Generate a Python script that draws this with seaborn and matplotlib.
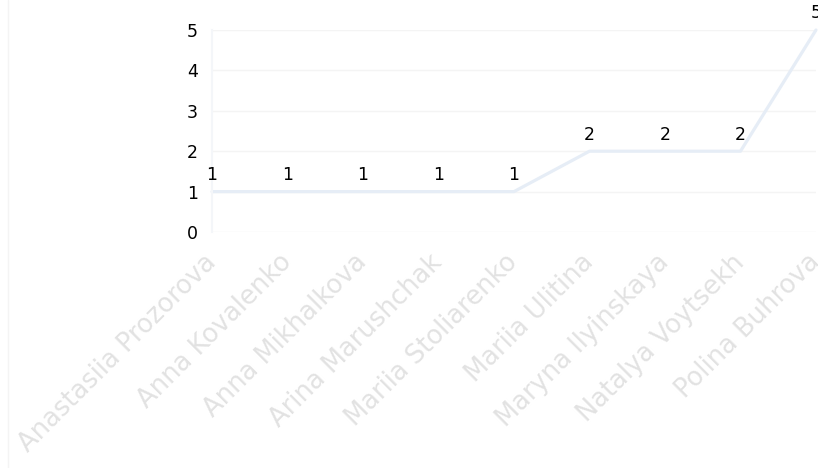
import pandas as pd
import numpy as np
import matplotlib
matplotlib.use("Agg")
import matplotlib.pyplot as plt
import seaborn as sns
from matplotlib.lines import Line2D

# datos del gráfico
names = ["Anastasiia Prozorova", "Anna Kovalenko", "Anna Mikhalkova",
         "Arina Marushchak", "Mariia Stoliarenko", "Mariia Ulitina",
         "Maryna Ilyinskaya", "Natalya Voytsekh", "Polina Buhrova"]
counts = [1, 1, 1, 1, 1, 2, 2, 2, 5]
yticks = [0, 1, 2, 3, 4, 5]

df = pd.DataFrame({"name": names, "count": counts})
df["pos"] = np.arange(len(df))

sns.set_style("white")
plt.rcParams['font.family'] = ['DejaVu Sans']

fig = plt.figure(figsize=(8.18, 4.68), dpi=100)
ax = fig.add_axes([212/818, (468-232)/468, (816-212)/818, (232-30)/468])

sns.lineplot(data=df, x="pos", y="count", ax=ax, color="#e6edf6", linewidth=2.3, clip_on=False)

for i, row in df.iterrows():
    ax.annotate(str(row["count"]), (row["pos"], row["count"]), xytext=(0, 5.5),
                textcoords="offset points", ha="center", va="bottom",
                fontsize=12.5, color="black", annotation_clip=False)

ax.set_xlim(0, len(df) - 1)
ax.set_ylim(0, 5)
ax.set_yticks(yticks)
ax.set_xticks(df["pos"])
ax.set_xticklabels(df["name"], rotation=45, ha="right", va="center", rotation_mode="anchor",
                   color="#e2e2e2", fontsize=18.5)
ax.tick_params(axis="y", labelsize=12.5, colors="black", length=0, pad=10)
ax.tick_params(axis="x", direction="inout", length=12, color="#f3f3f3", pad=13)
ax.set_xlabel("")
ax.set_ylabel("")
ax.grid(axis="y", color="#f4f4f4", linewidth=1)
for s in ["top", "right", "bottom"]:
    ax.spines[s].set_visible(False)
ax.spines["left"].set_color("#f4f6f9")
ax.spines["left"].set_linewidth(1.5)

# borde tenue a la izquierda
fig.add_artist(Line2D([8/818, 8/818], [0, 1], transform=fig.transFigure, color="#f4f4f4", linewidth=1))

fig.savefig("out.png", dpi=100)
